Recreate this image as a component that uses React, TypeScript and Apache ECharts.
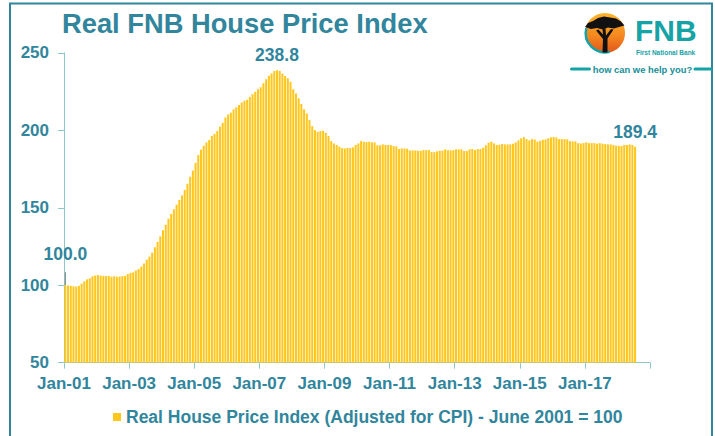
import React, { useEffect, useRef } from 'react';
import * as echarts from 'echarts';

// Axis tick labels (every 24 months, Jan-01 .. Jan-17); axis runs Jan-01 .. Dec-18
const tickLabels = ['Jan-01', 'Jan-03', 'Jan-05', 'Jan-07', 'Jan-09', 'Jan-11', 'Jan-13', 'Jan-15', 'Jan-17'];
const monthsOnAxis = 216;
const monthsPerTick = 24;

// Real FNB House Price Index, monthly Jan-2001 .. Jul-2018 (June 2001 = 100)
const realHpi = [
  100.0, 99.8, 99.6, 99.3, 99.2, 99.6, 101.0, 102.5, 103.8, 104.5, 105.8, 106.3,
  106.5, 106.2, 106.0, 105.9, 106.0, 105.5, 105.8, 105.5, 105.6, 105.8, 106.0, 107.2,
  108.0, 108.3, 109.5, 110.5, 112.0, 114.0, 116.5, 118.5, 121.0, 124.5, 128.0, 131.5,
  135.5, 139.0, 143.0, 146.0, 149.0, 152.0, 155.0, 158.0, 161.5, 165.5, 170.0, 174.0,
  179.0, 184.0, 187.5, 190.0, 192.2, 193.7, 196.3, 197.7, 199.5, 202.3, 204.8, 208.3,
  210.2, 211.3, 213.5, 214.8, 216.3, 218.0, 219.0, 219.7, 221.4, 223.2, 224.8, 226.4,
  227.7, 230.3, 233.0, 235.2, 236.7, 238.2, 238.8, 238.4, 236.7, 235.0, 233.5, 231.3,
  226.4, 223.8, 220.6, 216.9, 213.5, 210.9, 206.6, 202.7, 200.1, 199.0, 199.5, 199.7,
  198.4, 196.3, 193.0, 191.5, 190.5, 189.4, 188.5, 188.2, 188.6, 188.5, 189.0, 190.5,
  191.5, 193.0, 192.6, 192.4, 192.6, 192.2, 192.2, 190.3, 190.3, 190.9, 190.5, 190.5,
  190.3, 189.8, 189.6, 187.9, 188.3, 188.3, 188.1, 187.0, 187.0, 187.0, 186.8, 186.8,
  187.2, 187.2, 187.2, 185.9, 185.9, 186.4, 186.8, 186.8, 187.7, 187.2, 187.0, 187.2,
  187.7, 187.7, 187.7, 186.6, 186.6, 187.7, 187.9, 187.2, 187.9, 187.9, 188.7, 190.3,
  192.0, 192.6, 191.5, 190.5, 190.7, 191.2, 190.9, 190.9, 190.9, 191.3, 192.2, 193.5,
  194.8, 195.6, 194.3, 193.5, 194.3, 194.1, 192.6, 193.2, 193.9, 194.1, 194.8, 195.4,
  195.6, 195.4, 194.3, 194.3, 194.3, 194.1, 193.0, 192.8, 192.8, 191.7, 191.5, 191.7,
  192.2, 191.7, 191.7, 191.7, 191.3, 191.7, 191.3, 191.1, 190.9, 190.9, 190.5, 190.0,
  190.0, 189.8, 190.5, 190.5, 190.9, 190.5, 189.4
];

const yMin = 50;
const yMax = 250;
const yStep = 50;

const seriesName = 'Real House Price Index (Adjusted for CPI) - June 2001 = 100';

const TEAL = '#31859C';
const AXIS = '#8CC9CB';
const BAR = '#FFC61E';
const FNB_TEAL = '#16A3A6';

export default function App() {
  const ref = useRef<HTMLDivElement>(null);

  useEffect(() => {
    if (!ref.current) return;
    const chart = echarts.init(ref.current, null, { renderer: 'svg' });

    const peakIdx = realHpi.indexOf(Math.max(...realHpi));
    const lastIdx = realHpi.length - 1;
    const labelled = [0, peakIdx, lastIdx];

    const data = realHpi.map((v, i) => {
      const item: any = { value: [i + 0.5, v] };
      if (labelled.includes(i)) {
        item.label = {
          show: true,
          position: 'top',
          distance: i === 0 ? 22 : 6,
          formatter: v.toFixed(1),
          color: TEAL,
          fontSize: 17.5,
          fontWeight: 'bold',
          fontFamily: 'Liberation Sans, Arial, sans-serif',
        };
        if (i === 0) {
          item.labelLine = { show: true, lineStyle: { color: '#7F7F7F', width: 1 } };
        }
      }
      return item;
    });

    chart.setOption({
      animation: false,
      backgroundColor: '#FFFFFF',
      textStyle: { fontFamily: 'Liberation Sans, Arial, sans-serif' },
      title: {
        text: 'Real FNB House Price Index',
        left: 62,
        top: 10,
        padding: 0,
        textStyle: { fontSize: 27.3, fontWeight: 'bold', color: TEAL, fontFamily: 'Liberation Sans, Arial, sans-serif' },
      },
      legend: {
        left: 113,
        top: 408,
        padding: 0,
        itemWidth: 8,
        itemHeight: 8,
        icon: 'rect',
        data: [seriesName],
        textStyle: { fontSize: 17.5, fontWeight: 'bold', color: TEAL, fontFamily: 'Liberation Sans, Arial, sans-serif' },
      },
      grid: { left: 64, right: 65, top: 52.8, bottom: 73.3, containLabel: false },
      xAxis: {
        type: 'value',
        min: 0,
        max: monthsOnAxis,
        interval: monthsPerTick,
        splitLine: { show: false },
        axisLine: { show: true, lineStyle: { color: AXIS, width: 1 } },
        axisTick: { show: true, length: 6, lineStyle: { color: AXIS } },
        axisLabel: {
          margin: 12,
          color: TEAL,
          fontSize: 17,
          fontWeight: 'bold',
          formatter: (v: number) => tickLabels[Math.round(v / monthsPerTick)] ?? '',
        },
      },
      yAxis: {
        type: 'value',
        min: yMin,
        max: yMax,
        interval: yStep,
        splitLine: { show: false },
        axisLine: { show: true, lineStyle: { color: AXIS, width: 1 } },
        axisTick: { show: true, length: 6, lineStyle: { color: AXIS } },
        axisLabel: { margin: 15, color: TEAL, fontSize: 17, fontWeight: 'bold' },
      },
      series: [
        {
          name: seriesName,
          type: 'bar',
          barWidth: '74%',
          itemStyle: { color: BAR },
          data,
        },
      ],
      graphic: [
        {
          type: 'rect',
          silent: true,
          shape: { x: 10, y: 3.5, width: 702, height: 460 },
          style: { fill: 'none', stroke: TEAL, lineWidth: 2 },
        },
        // FNB logo
        {
          type: 'circle',
          silent: true,
          shape: { cx: 605, cy: 33, r: 20 },
          style: {
            fill: new echarts.graphic.LinearGradient(0, 0, 0, 1, [
              { offset: 0, color: '#FDB52B' },
              { offset: 0.55, color: '#F58A1F' },
              { offset: 1, color: '#E0561B' },
            ]),
          },
        },
        {
          type: 'arc',
          silent: true,
          shape: { cx: 605, cy: 33, r: 19.3, startAngle: Math.PI * 0.42, endAngle: Math.PI * 1.08 },
          style: { stroke: FNB_TEAL, lineWidth: 2.5, fill: 'none' },
        },
        {
          type: 'polygon',
          silent: true,
          shape: {
            points: [
              [585, 27], [588, 23], [593, 21], [598, 18], [604, 16.5], [610, 17.5], [616, 18.5],
              [621, 21.5], [624.5, 25.5], [619, 27], [614, 28.5], [608, 27.5], [603, 29.5],
              [597, 28], [591, 29],
            ],
          },
          style: { fill: '#111111' },
        },
        {
          type: 'polygon',
          silent: true,
          shape: {
            points: [
              [602.5, 28.5], [605.5, 28.5], [606, 35.5], [611, 29], [613.5, 29.5], [607.5, 38.5],
              [607.5, 52.5], [602.5, 52.5], [603, 39], [596, 30.5], [598.5, 29.5], [603, 34.5],
            ],
          },
          style: { fill: '#111111' },
        },
        {
          type: 'text',
          silent: true,
          x: 635,
          y: 45,
          style: {
            text: 'FNB',
            fill: FNB_TEAL,
            font: 'bold 30px "Liberation Sans", Arial, sans-serif',
            textVerticalAlign: 'bottom',
          },
        },
        {
          type: 'text',
          silent: true,
          x: 636,
          y: 52.5,
          style: {
            text: 'First National Bank',
            fill: FNB_TEAL,
            font: 'bold 6.5px "Liberation Sans", Arial, sans-serif',
            textVerticalAlign: 'middle',
          },
        },
        {
          type: 'rect',
          silent: true,
          shape: { x: 570, y: 67.5, width: 21, height: 3, r: 1.5 },
          style: { fill: FNB_TEAL },
        },
        {
          type: 'rect',
          silent: true,
          shape: { x: 693.5, y: 67.5, width: 19, height: 3, r: 1.5 },
          style: { fill: FNB_TEAL },
        },
        {
          type: 'text',
          silent: true,
          x: 642.5,
          y: 69,
          style: {
            text: 'how can we help you?',
            fill: '#168E97',
            font: 'bold 9.4px "Liberation Sans", Arial, sans-serif',
            textAlign: 'center',
            textVerticalAlign: 'middle',
          },
        },
      ],
    });

    return () => chart.dispose();
  }, []);

  return (
    <div
      ref={ref}
      style={{ position: 'fixed', left: 0, top: 0, width: 715, height: 436 }}
    />
  );
}
